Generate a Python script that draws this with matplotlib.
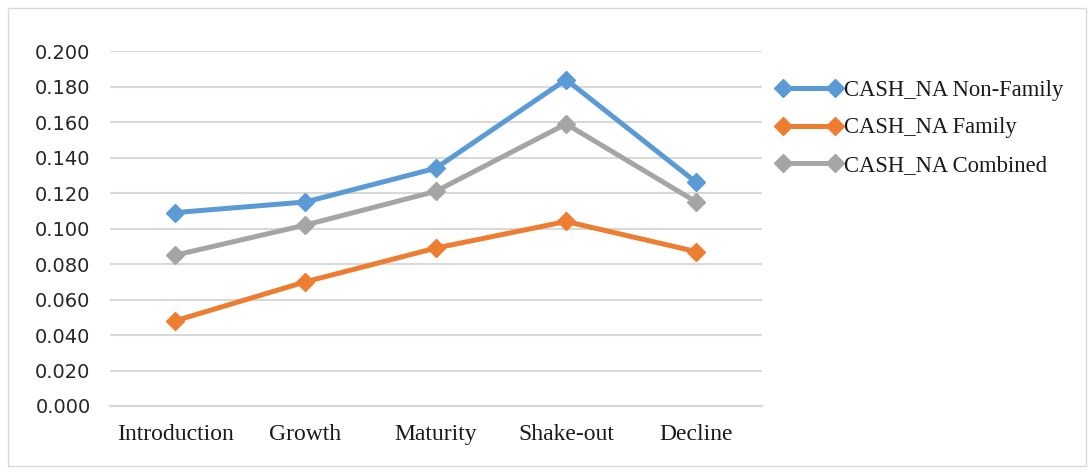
import matplotlib.pyplot as plt
from matplotlib.patches import Rectangle

# -------------------------------
# Data
# -------------------------------
stages = ["Introduction", "Growth", "Maturity", "Shake-out", "Decline"]
non_family = [0.109, 0.115, 0.134, 0.184, 0.126]
family = [0.048, 0.070, 0.089, 0.104, 0.087]
combined = [0.085, 0.102, 0.121, 0.159, 0.115]

labels = ["CASH_NA Non-Family", "CASH_NA Family", "CASH_NA Combined"]
colors = ["#5B9BD5", "#ED7D31", "#A5A5A5"]

# -------------------------------
# Figure
# -------------------------------
fig = plt.figure(figsize=(10.91, 4.74), dpi=100)
ax = fig.add_axes([0.1008, 0.1435, 0.5972, 0.7485])

x = range(len(stages))
for vals, lab, col in zip([non_family, family, combined], labels, colors):
    ax.plot(x, vals, color=col, lw=3.6, marker="D", markersize=9,
            label=lab, solid_joinstyle="round")

ax.set_xlim(-0.5, len(stages) - 0.5)
ax.set_ylim(0, 0.2)
ax.set_yticks([i * 0.02 for i in range(11)])
ax.set_yticklabels([f"{i * 0.02:.3f}" for i in range(11)],
                   family="DejaVu Sans", fontsize=14, color="#262626")
ax.set_xticks(list(x))
ax.set_xticklabels(stages, family="Liberation Serif", fontsize=17, color="#1a1a1a")
ax.tick_params(length=0)
ax.tick_params(axis="y", pad=14)
ax.tick_params(axis="x", pad=13)

ax.grid(axis="y", color="#D9D9D9", lw=1.5)
ax.set_axisbelow(True)
for s in ["top", "right", "left"]:
    ax.spines[s].set_visible(False)
ax.spines["bottom"].set_color("#D9D9D9")
ax.spines["bottom"].set_linewidth(1.5)

leg = fig.legend(loc="upper left", bbox_to_anchor=(0.703, 0.85), frameon=False,
                 prop={"family": "Liberation Serif", "size": 16.3},
                 handlelength=2.9, handletextpad=0.1, labelspacing=0.72,
                 numpoints=2, borderaxespad=0)
for t in leg.get_texts():
    t.set_color("#1a1a1a")

# outer chart border
fig.patches.append(Rectangle((0.007, 0.017), 0.988, 0.966, transform=fig.transFigure,
                             fill=False, edgecolor="#D9D9D9", lw=1))

fig.savefig("out.png", dpi=100)
